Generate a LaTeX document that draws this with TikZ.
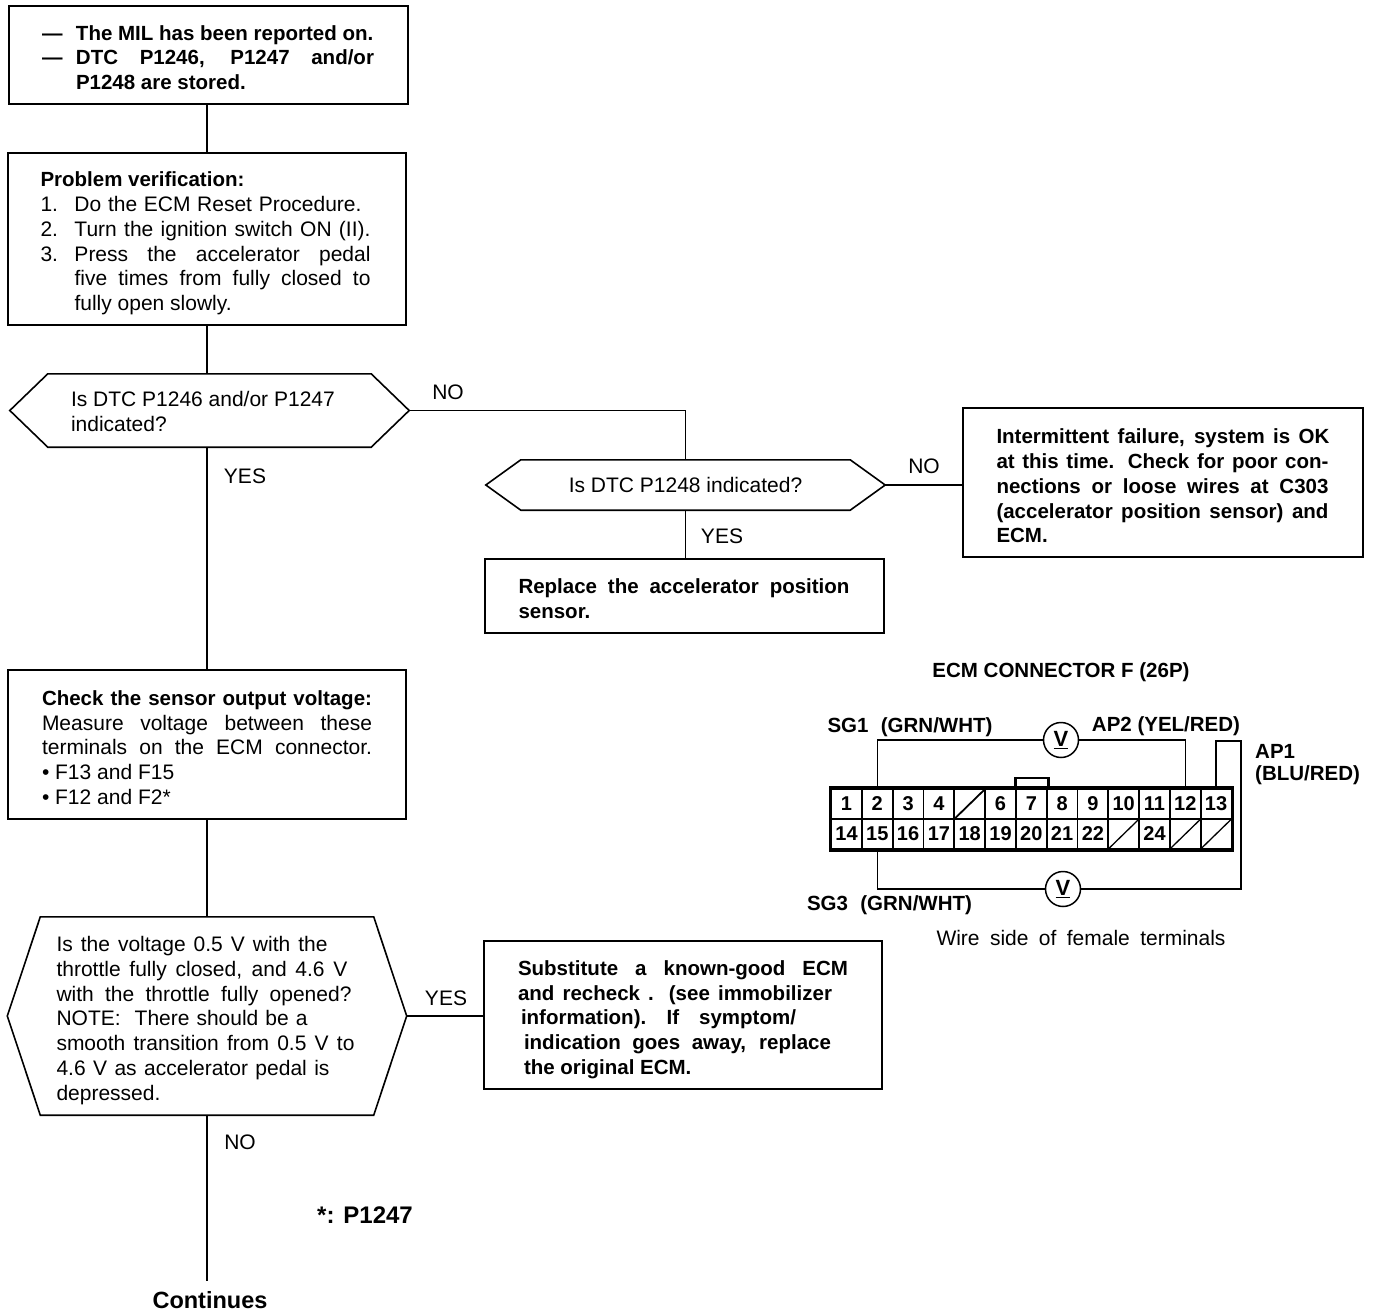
\documentclass[tikz,border=0pt]{standalone}
\usepackage{fontspec}
\setmainfont{Liberation Sans}
\newcommand{\itm}[1]{\makebox[34pt][l]{#1}}
\newcommand{\jl}[2]{\makebox[#1pt][s]{#2}}
\tikzset{
  txt/.style={font=\fontsize{21}{24.7}\selectfont,inner sep=0pt},
  btxt/.style={font=\fontsize{20.5}{24.7}\selectfont\bfseries,inner sep=0pt},
  flowbox/.style={draw,line width=1.6pt,inner sep=0pt,align=left,font=\fontsize{21}{24.7}\selectfont},
  hexbox/.style={inner sep=0pt,align=left,font=\fontsize{21}{24.7}\selectfont},
  flowline/.style={line width=1.6pt},
  wire/.style={line width=1.5pt},
  cell/.style={draw,line width=1.6pt,inner sep=0pt,minimum width=30.85pt,minimum height=30pt,font=\fontsize{20}{20}\selectfont\bfseries},
  meter/.style={draw,circle,line width=1.5pt,inner sep=0pt,minimum size=35pt,font=\fontsize{22}{22}\selectfont\bfseries}
}
\newcommand{\hexdraw}[2]{\draw[flowline] (#1.west) -- ([xshift=#2pt]#1.north west) -- ([xshift=-#2pt]#1.north east) -- (#1.east) -- ([xshift=-#2pt]#1.south east) -- ([xshift=#2pt]#1.south west) -- cycle;}
\begin{document}
\begin{tikzpicture}[x=1pt,y=-1pt]
\useasboundingbox (0,0) rectangle (1376,1316);

% left column
\node[flowbox,minimum width=399pt,minimum height=98pt] (mil) at (208.5,55) {\begin{minipage}{333pt}\fontsize{20.5}{24.7}\selectfont\bfseries\vspace{5pt}\itm{---}The MIL has been reported on.\\ \itm{---}\jl{298}{DTC P1246, P1247 and/or}\\ \itm{}P1248 are stored.\end{minipage}};
\node[flowbox,minimum width=398pt,minimum height=172pt] (verify) at (207,239) {\begin{minipage}{333pt}\vspace{9pt}{\fontsize{20.5}{24.7}\selectfont\textbf{Problem verification:}}\\ \itm{1.}\jl{287}{Do the ECM Reset Procedure.}\\ \itm{2.}\jl{296}{Turn the ignition switch ON (II).}\\ \itm{3.}\jl{296}{Press the accelerator pedal}\\ \itm{}\jl{296}{five times from fully closed to}\\ \itm{}fully open slowly.\end{minipage}};
\node[hexbox,minimum width=399pt,minimum height=73pt] (dtcA) at (209.5,410.5) {\begin{minipage}{277pt}\vspace{2pt}Is DTC P1246 and/or P1247\\ indicated?\end{minipage}};
\node[flowbox,minimum width=398pt,minimum height=149pt] (check) at (207,744.5) {\begin{minipage}{330pt}\vspace{6pt}{\fontsize{20.5}{24.7}\selectfont\bfseries\jl{330}{Check the sensor output voltage:}}\\ \jl{330}{Measure voltage between these}\\ \jl{330}{terminals on the ECM connector.}\\ {\textbullet} F13 and F15\\ {\textbullet} F12 and F2*\end{minipage}};
\node[hexbox,minimum width=399pt,minimum height=198pt] (volt) at (207,1016) {\begin{minipage}{301pt}\vspace{9pt}\jl{271}{Is the voltage 0.5 V with the}\\ \jl{291}{throttle fully closed, and 4.6 V}\\ \jl{295}{with the throttle fully opened?}\\ \jl{251}{NOTE:\ \ There should be a}\\ \jl{298}{smooth transition from 0.5 V to}\\ \jl{273}{4.6 V as accelerator pedal is}\\ depressed.\end{minipage}};
\hexdraw{dtcA}{38}
\hexdraw{volt}{33}
\node[inner sep=0pt,font=\fontsize{23.5}{24.7}\selectfont\bfseries] (cont) at (210,1300) {Continues};
\coordinate (contT) at (207,1281);

% right side
\node[hexbox,minimum width=399pt,minimum height=50pt] (dtcB) at (685.5,485) {Is DTC P1248 indicated?};
\hexdraw{dtcB}{35}
\node[flowbox,minimum width=399pt,minimum height=74pt] (replace) at (684.5,596) {\begin{minipage}{332pt}\fontsize{20.5}{24.7}\selectfont\bfseries\vspace{5pt}\jl{331}{Replace the accelerator position}\\ sensor.\end{minipage}};
\node[flowbox,minimum width=400pt,minimum height=149pt] (intermit) at (1163,482.5) {\begin{minipage}{333pt}\fontsize{20.5}{24.7}\selectfont\bfseries\vspace{7pt}\jl{333}{Intermittent failure, system is OK}\\ \jl{332}{at this time. Check for poor con-}\\ \jl{332}{nections or loose wires at C303}\\ \jl{332}{(accelerator position sensor) and}\\ ECM.\end{minipage}};
\node[flowbox,minimum width=398pt,minimum height=148pt] (subst) at (683,1015) {\begin{minipage}{330pt}\fontsize{20.5}{24.7}\selectfont\bfseries\vspace{9pt}\jl{330}{Substitute a known-good ECM}\\ \jl{314}{and recheck . (see immobilizer}\\ \hspace*{3pt}\jl{275}{information). If\ \ symptom/}\\ \hspace*{6pt}\jl{307}{indication goes away, replace}\\ \hspace*{6pt}the original ECM.\end{minipage}};

% connectors
\draw[flowline] (verify.north |- mil.south) -- (verify.north);
\draw[flowline] (verify.south) -- (verify.south |- dtcA.north);
\draw[flowline] (verify.south |- dtcA.south) -- (check.north);
\draw[flowline] (check.south) -- (volt.north);
\draw[flowline] (volt.south) -- (contT);
\draw[flowline] (dtcA.east) -| (dtcB.north);
\draw[flowline] (dtcB.south) -- (dtcB.south |- replace.north);
\draw[flowline] (dtcB.east) -- (intermit.west |- dtcB.east);
\draw[flowline] (volt.east) -- (subst.west |- volt.east);

% branch labels
\node[txt] (lnoA) at (448,392.5) {NO};
\node[txt] (lyesA) at (245,476.5) {YES};
\node[txt] (lnoB) at (924,466.5) {NO};
\node[txt] (lyesB) at (722,536.5) {YES};
\node[txt] (lyesC) at (446,998.5) {YES};
\node[txt] (lnoC) at (240,1142.5) {NO};
\node[inner sep=0pt,font=\fontsize{24}{24.7}\selectfont\bfseries] (star) at (365,1215) {*: P1247};

% connector
\node[btxt] (ecm) at (1061,672) {ECM CONNECTOR F (26P)};
\foreach \n/\t/\c in {1/1/0,2/2/1,3/3/2,4/4/3,5//4,6/6/5,7/7/6,8/8/7,9/9/8,10/10/9,11/11/10,12/12/11,13/13/12}
  \node[cell] (c\n) at (846.5+30.8*\c,804) {\t};
\foreach \n/\t/\c in {14/14/0,15/15/1,16/16/2,17/17/3,18/18/4,19/19/5,20/20/6,21/21/7,22/22/8,23//9,24/24/10,25//11,26//12}
  \node[cell] (c\n) at (846.5+30.8*\c,834) {\t};
\draw[line width=3.5pt] (c1.north west) rectangle (c26.south east);
\draw[line width=1.8pt] (c5.south west) -- (c5.north east);
\foreach \n in {23,25,26}
  \draw[line width=1.3pt] (c\n.south west) -- (c\n.north east);
\draw[line width=2.5pt] ([xshift=-16pt]c7.north) |- ([xshift=-16pt,yshift=10pt]c7.north) -| ([xshift=17pt]c7.north);

\node[meter] (v1) at (1061,740) {\underline{V}};
\node[meter] (v2) at (1063,889) {\underline{V}};
\coordinate (apTop) at (1241,741);
\coordinate (apBot) at (1241,889);
\draw[wire] (c2.north) |- (v1.west);
\draw[wire] (v1.east) -| (c12.north);
\draw[wire] (c13.north) |- (apTop) -- (apBot) -- (v2.east);
\draw[wire] (v2.west) -| (c15.south);

\node[btxt] (sg1) at (910,727.5) {\jl{165}{SG1 (GRN/WHT)}};
\node[btxt] (ap2) at (1166,726) {AP2 (YEL/RED)};
\node[btxt,anchor=west] (ap1a) at (1255,751) {AP1};
\node[btxt,anchor=west] (ap1b) at (1255,775) {(BLU/RED)};
\node[btxt] (sg3) at (889.5,905.5) {\jl{165}{SG3 (GRN/WHT)}};
\node[txt] (wire) at (1081,938) {\jl{289}{Wire side of female terminals}};
\end{tikzpicture}
\end{document}
